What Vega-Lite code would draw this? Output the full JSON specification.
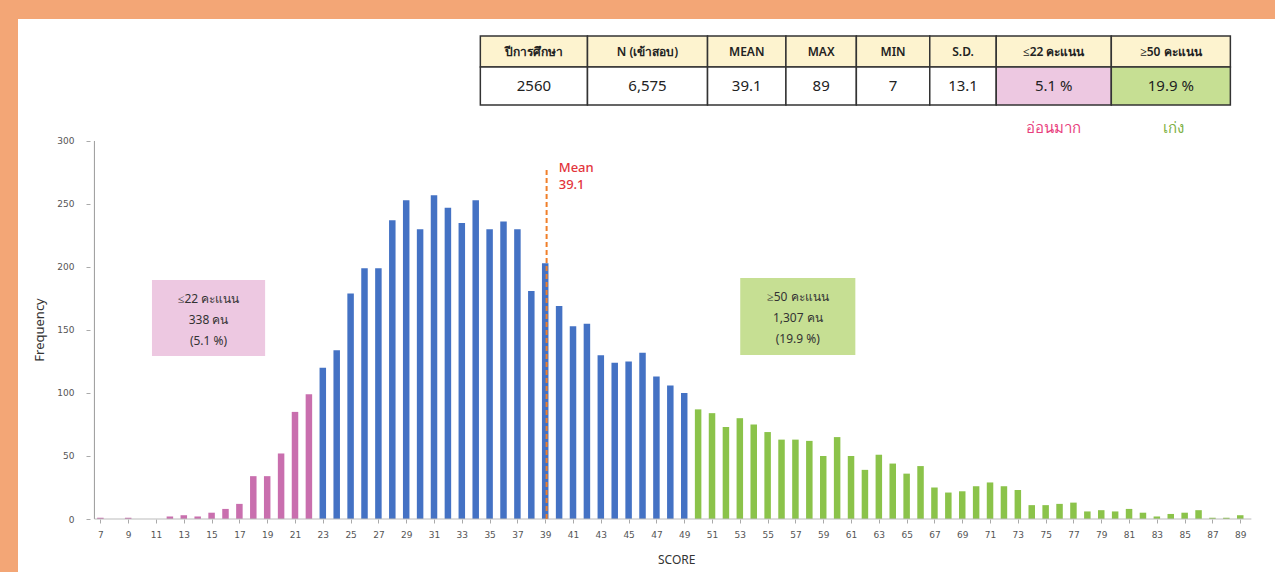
{
  "$schema": "https://vega.github.io/schema/vega-lite/v6.json",
  "width": 1257,
  "height": 553,
  "autosize": {"type": "none"},
  "padding": {"left": 18, "top": 19, "right": 0, "bottom": 0},
  "background": "#F3A676",
  "config": {
    "view": {"fill": "white", "stroke": null},
    "font": "Noto Sans",
    "text": {"font": "Noto Sans"}
  },
  "datasets": {
    "bars": [
      {"score": 7, "count": 1, "grp": "low"}, {"score": 8, "count": 0, "grp": "low"}, {"score": 9, "count": 1, "grp": "low"},
      {"score": 10, "count": 0, "grp": "low"}, {"score": 11, "count": 0, "grp": "low"}, {"score": 12, "count": 2, "grp": "low"},
      {"score": 13, "count": 3, "grp": "low"}, {"score": 14, "count": 2, "grp": "low"}, {"score": 15, "count": 5, "grp": "low"},
      {"score": 16, "count": 8, "grp": "low"}, {"score": 17, "count": 12, "grp": "low"}, {"score": 18, "count": 34, "grp": "low"},
      {"score": 19, "count": 34, "grp": "low"}, {"score": 20, "count": 52, "grp": "low"}, {"score": 21, "count": 85, "grp": "low"},
      {"score": 22, "count": 99, "grp": "low"},
      {"score": 23, "count": 120, "grp": "mid"}, {"score": 24, "count": 134, "grp": "mid"}, {"score": 25, "count": 179, "grp": "mid"},
      {"score": 26, "count": 199, "grp": "mid"}, {"score": 27, "count": 199, "grp": "mid"}, {"score": 28, "count": 237, "grp": "mid"},
      {"score": 29, "count": 253, "grp": "mid"}, {"score": 30, "count": 230, "grp": "mid"}, {"score": 31, "count": 257, "grp": "mid"},
      {"score": 32, "count": 247, "grp": "mid"}, {"score": 33, "count": 235, "grp": "mid"}, {"score": 34, "count": 253, "grp": "mid"},
      {"score": 35, "count": 230, "grp": "mid"}, {"score": 36, "count": 236, "grp": "mid"}, {"score": 37, "count": 230, "grp": "mid"},
      {"score": 38, "count": 181, "grp": "mid"}, {"score": 39, "count": 203, "grp": "mid"}, {"score": 40, "count": 169, "grp": "mid"},
      {"score": 41, "count": 153, "grp": "mid"}, {"score": 42, "count": 155, "grp": "mid"}, {"score": 43, "count": 130, "grp": "mid"},
      {"score": 44, "count": 124, "grp": "mid"}, {"score": 45, "count": 125, "grp": "mid"}, {"score": 46, "count": 132, "grp": "mid"},
      {"score": 47, "count": 113, "grp": "mid"}, {"score": 48, "count": 106, "grp": "mid"}, {"score": 49, "count": 100, "grp": "mid"},
      {"score": 50, "count": 87, "grp": "high"}, {"score": 51, "count": 84, "grp": "high"}, {"score": 52, "count": 73, "grp": "high"},
      {"score": 53, "count": 80, "grp": "high"}, {"score": 54, "count": 75, "grp": "high"}, {"score": 55, "count": 69, "grp": "high"},
      {"score": 56, "count": 63, "grp": "high"}, {"score": 57, "count": 63, "grp": "high"}, {"score": 58, "count": 62, "grp": "high"},
      {"score": 59, "count": 50, "grp": "high"}, {"score": 60, "count": 65, "grp": "high"}, {"score": 61, "count": 50, "grp": "high"},
      {"score": 62, "count": 39, "grp": "high"}, {"score": 63, "count": 51, "grp": "high"}, {"score": 64, "count": 44, "grp": "high"},
      {"score": 65, "count": 36, "grp": "high"}, {"score": 66, "count": 42, "grp": "high"}, {"score": 67, "count": 25, "grp": "high"},
      {"score": 68, "count": 21, "grp": "high"}, {"score": 69, "count": 22, "grp": "high"}, {"score": 70, "count": 26, "grp": "high"},
      {"score": 71, "count": 29, "grp": "high"}, {"score": 72, "count": 26, "grp": "high"}, {"score": 73, "count": 23, "grp": "high"},
      {"score": 74, "count": 11, "grp": "high"}, {"score": 75, "count": 11, "grp": "high"}, {"score": 76, "count": 12, "grp": "high"},
      {"score": 77, "count": 13, "grp": "high"}, {"score": 78, "count": 6, "grp": "high"}, {"score": 79, "count": 7, "grp": "high"},
      {"score": 80, "count": 6, "grp": "high"}, {"score": 81, "count": 8, "grp": "high"}, {"score": 82, "count": 5, "grp": "high"},
      {"score": 83, "count": 2, "grp": "high"}, {"score": 84, "count": 4, "grp": "high"}, {"score": 85, "count": 5, "grp": "high"},
      {"score": 86, "count": 7, "grp": "high"}, {"score": 87, "count": 1, "grp": "high"}, {"score": 88, "count": 1, "grp": "high"},
      {"score": 89, "count": 3, "grp": "high"}
    ],
    "header": [
      {"x1": 34.333, "x2": 42.041, "xm": 38.187, "label": "ปีการศึกษา"},
      {"x1": 42.041, "x2": 50.677, "xm": 46.359, "label": "N (เข้าสอบ)"},
      {"x1": 50.677, "x2": 56.316, "xm": 53.497, "label": "MEAN"},
      {"x1": 56.316, "x2": 61.383, "xm": 58.850, "label": "MAX"},
      {"x1": 61.383, "x2": 66.664, "xm": 64.024, "label": "MIN"},
      {"x1": 66.664, "x2": 71.446, "xm": 69.055, "label": "S.D."},
      {"x1": 71.446, "x2": 79.724, "xm": 75.585, "label": "≤22 คะแนน"},
      {"x1": 79.724, "x2": 88.289, "xm": 84.007, "label": "≥50 คะแนน"}
    ],
    "body": [
      {"x1": 34.333, "x2": 42.041, "xm": 38.187, "label": "2560", "tone": "plain"},
      {"x1": 42.041, "x2": 50.677, "xm": 46.359, "label": "6,575", "tone": "plain"},
      {"x1": 50.677, "x2": 56.316, "xm": 53.497, "label": "39.1", "tone": "plain"},
      {"x1": 56.316, "x2": 61.383, "xm": 58.850, "label": "89", "tone": "plain"},
      {"x1": 61.383, "x2": 66.664, "xm": 64.024, "label": "7", "tone": "plain"},
      {"x1": 66.664, "x2": 71.446, "xm": 69.055, "label": "13.1", "tone": "plain"},
      {"x1": 71.446, "x2": 79.724, "xm": 75.585, "label": "5.1 %", "tone": "pink"},
      {"x1": 79.724, "x2": 88.289, "xm": 84.007, "label": "19.9 %", "tone": "green"}
    ],
    "one": [{}]
  },
  "layer": [
    {
      "data": {"name": "bars"},
      "mark": {"type": "bar", "width": 6.5},
      "encoding": {
        "x": {
          "field": "score", "type": "quantitative", "title": null,
          "scale": {"domain": [1.433, 91.14], "nice": false, "zero": false},
          "axis": {
            "values": [7, 9, 11, 13, 15, 17, 19, 21, 23, 25, 27, 29, 31, 33, 35, 37, 39, 41, 43, 45, 47, 49, 51, 53, 55, 57, 59, 61, 63, 65, 67, 69, 71, 73, 75, 77, 79, 81, 83, 85, 87, 89],
            "tickCount": 200, "format": "d",
            "offset": -53, "domain": false, "grid": false, "title": null,
            "labelOverlap": false, "labelFlush": false,
            "tickSize": 4, "tickColor": "#aaa", "labelPadding": 7,
            "labelFontSize": 9, "labelColor": "#555", "labelFont": "DejaVu Sans"
          }
        },
        "y": {
          "field": "count", "type": "quantitative", "title": null,
          "scale": {"domain": [-42.06, 396.8], "nice": false, "zero": false},
          "axis": {
            "values": [0, 50, 100, 150, 200, 250, 300],
            "tickCount": 50, "format": "d",
            "offset": -72, "domain": false, "grid": false, "title": null,
            "labelOverlap": false, "labelFlush": false,
            "tickSize": 4, "tickColor": "#aaa", "labelPadding": 12,
            "labelFontSize": 9, "labelColor": "#555", "labelFont": "DejaVu Sans"
          }
        },
        "y2": {"datum": 0},
        "color": {
          "field": "grp", "type": "nominal",
          "scale": {"domain": ["low", "mid", "high"], "range": ["#C96FAE", "#4472C4", "#8BC34A"]},
          "legend": null
        }
      }
    },
    {
      "data": {"name": "one"},
      "mark": {"type": "rule", "color": "#999", "strokeWidth": 1},
      "encoding": {
        "x": {"datum": 6.57, "type": "quantitative"},
        "y": {"datum": 0, "type": "quantitative"},
        "y2": {"datum": 300}
      }
    },
    {
      "data": {"name": "one"},
      "mark": {"type": "rule", "color": "#bbb", "strokeWidth": 1},
      "encoding": {
        "x": {"datum": 6.57, "type": "quantitative"},
        "x2": {"datum": 89.8},
        "y": {"datum": 0, "type": "quantitative"}
      }
    },
    {
      "data": {"name": "one"},
      "mark": {"type": "rule", "color": "#F07F2A", "strokeWidth": 2, "strokeDash": [5, 3]},
      "encoding": {
        "x": {"datum": 39.1, "type": "quantitative"},
        "y": {"datum": 0, "type": "quantitative"},
        "y2": {"datum": 279}
      }
    },
    {
      "data": {"values": [{"label": "Mean\n39.1", "x": 39.97, "y": 275}]},
      "mark": {"type": "text", "align": "left", "baseline": "alphabetic", "lineBreak": "\n", "lineHeight": 17, "fontSize": 13, "fontWeight": 500, "color": "#E3343C"},
      "encoding": {
        "x": {"field": "x", "type": "quantitative"},
        "y": {"field": "y", "type": "quantitative"},
        "text": {"field": "label"}
      }
    },
    {
      "data": {"values": [
        {"x1": 10.71, "x2": 18.85, "y1": 189.7, "y2": 129.4, "tone": "pink"},
        {"x1": 53.03, "x2": 61.31, "y1": 191.3, "y2": 130.2, "tone": "green"}
      ]},
      "mark": {"type": "rect"},
      "encoding": {
        "x": {"field": "x1", "type": "quantitative"},
        "x2": {"field": "x2"},
        "y": {"field": "y1", "type": "quantitative"},
        "y2": {"field": "y2"},
        "fill": {
          "field": "tone", "type": "nominal",
          "scale": {"domain": ["plain", "pink", "green"], "range": ["#FFFFFF", "#EDC8E1", "#C6DF93"]},
          "legend": null
        }
      }
    },
    {
      "data": {"values": [
        {"label": "≤22 คะแนน\n338 คน\n(5.1 %)", "x": 14.78, "y": 174.5},
        {"label": "≥50 คะแนน\n1,307 คน\n(19.9 %)", "x": 57.17, "y": 176}
      ]},
      "mark": {"type": "text", "align": "center", "baseline": "middle", "lineBreak": "\n", "lineHeight": 21, "fontSize": 12, "color": "#333"},
      "encoding": {
        "x": {"field": "x", "type": "quantitative"},
        "y": {"field": "y", "type": "quantitative"},
        "text": {"field": "label"}
      }
    },
    {
      "data": {"name": "header"},
      "mark": {"type": "rect", "fill": "#FDF3CF", "stroke": "#333", "strokeWidth": 1.5},
      "encoding": {
        "x": {"field": "x1", "type": "quantitative"},
        "x2": {"field": "x2"},
        "y": {"datum": 383.3, "type": "quantitative"},
        "y2": {"datum": 358.7}
      }
    },
    {
      "data": {"name": "body"},
      "mark": {"type": "rect", "stroke": "#333", "strokeWidth": 1.5},
      "encoding": {
        "x": {"field": "x1", "type": "quantitative"},
        "x2": {"field": "x2"},
        "y": {"datum": 358.7, "type": "quantitative"},
        "y2": {"datum": 328.6},
        "fill": {"field": "tone", "type": "nominal", "legend": null}
      }
    },
    {
      "data": {"name": "header"},
      "mark": {"type": "text", "align": "center", "baseline": "middle", "fontSize": 12, "fontWeight": 600, "color": "#222"},
      "encoding": {
        "x": {"field": "xm", "type": "quantitative"},
        "y": {"datum": 371, "type": "quantitative"},
        "text": {"field": "label"}
      }
    },
    {
      "data": {"name": "body"},
      "mark": {"type": "text", "align": "center", "baseline": "middle", "fontSize": 15, "color": "#222"},
      "encoding": {
        "x": {"field": "xm", "type": "quantitative"},
        "y": {"datum": 343.6, "type": "quantitative"},
        "text": {"field": "label"}
      }
    },
    {
      "data": {"values": [
        {"label": "อ่อนมาก", "x": 75.58, "y": 310.3, "c": "weak"},
        {"label": "เก่ง", "x": 84.22, "y": 310.3, "c": "good"}
      ]},
      "mark": {"type": "text", "align": "center", "baseline": "middle", "fontSize": 15},
      "encoding": {
        "x": {"field": "x", "type": "quantitative"},
        "y": {"field": "y", "type": "quantitative"},
        "text": {"field": "label"},
        "color": {
          "field": "c", "type": "nominal",
          "scale": {"domain": ["weak", "good"], "range": ["#E83F7E", "#7DB043"]},
          "legend": null
        }
      }
    },
    {
      "data": {"values": [{"label": "Frequency", "x": 2.65, "y": 150}]},
      "mark": {"type": "text", "align": "center", "baseline": "middle", "fontSize": 13, "angle": 270, "color": "#333"},
      "encoding": {
        "x": {"field": "x", "type": "quantitative"},
        "y": {"field": "y", "type": "quantitative"},
        "text": {"field": "label"}
      }
    },
    {
      "data": {"values": [{"label": "SCORE", "x": 48.46, "y": -32.5}]},
      "mark": {"type": "text", "align": "center", "baseline": "middle", "fontSize": 12, "color": "#333"},
      "encoding": {
        "x": {"field": "x", "type": "quantitative"},
        "y": {"field": "y", "type": "quantitative"},
        "text": {"field": "label"}
      }
    }
  ],
  "resolve": {"scale": {"color": "independent", "fill": "shared"}}
}
